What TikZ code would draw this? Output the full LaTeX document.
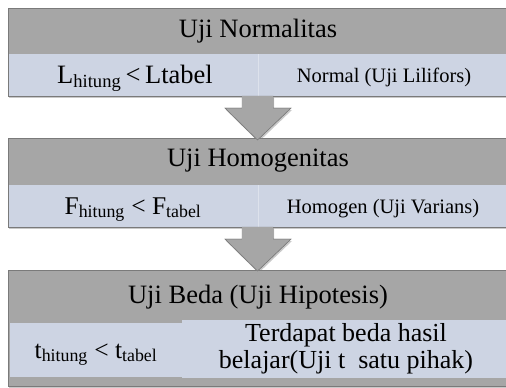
\documentclass[tikz,border=0pt]{standalone}
\usepackage{fontspec}
\setmainfont{Liberation Serif}
\usetikzlibrary{shadows}
\definecolor{hdr}{HTML}{A6A6A6}
\definecolor{rowc}{HTML}{CDD4E3}
\definecolor{edgec}{HTML}{7A7A7A}
\definecolor{divc}{HTML}{DDE2EC}
\tikzset{
  boxshadow/.style={drop shadow={shadow xshift=1pt, shadow yshift=-2pt, opacity=0.35, fill=black!60}},
  hdrbox/.style={draw=edgec, line width=0.6pt, fill=hdr, anchor=north west, inner sep=0pt, text=black},
  rowbox/.style={fill=rowc, anchor=north west, inner sep=0pt, text=black},
  arrowshape/.style={fill=hdr, draw=edgec, line width=0.5pt, boxshadow},
  hdrtext/.style={font=\fontsize{26.5}{30}\selectfont},
  bigtext/.style={font=\fontsize{26.5}{29}\selectfont},
  midtext/.style={font=\fontsize{25.5}{28}\selectfont},
  smalltext/.style={font=\fontsize{20.5}{24}\selectfont},
}
\begin{document}
\begin{tikzpicture}[x=1pt,y=-1pt]
\useasboundingbox (0,0) rectangle (506,388);
\clip (0,0) rectangle (506,388);
\fill[white] (0,0) rectangle (506,388);

% ---- Box 1
\node[hdrbox, boxshadow, minimum width=502pt, minimum height=88pt] (b1) at (8,8) {};
\node[rowbox, minimum width=250pt, minimum height=42pt] (r1a) at (8,54) {};
\node[rowbox, minimum width=252pt, minimum height=42pt] (r1b) at (258,54) {};
\draw[divc, line width=0.6pt] (r1a.north east) -- (r1a.south east);
\draw[edgec, line width=0.6pt] (b1.north west) rectangle (b1.south east);
\node[hdrtext] (t1) at (258,31) {Uji Normalitas};
\node[bigtext, anchor=base] (c1a) at (135,83) {L\textsubscript{hitung}\,<\,Ltabel};
\node[smalltext, anchor=base] (c1b) at (384,82) {Normal (Uji Lilifors)};

% ---- Arrow 1
\path[arrowshape] (242,96) coordinate (a1s) -- (273,96) -- (273,108) -- (291,108)
  -- (257.5,140) coordinate (a1t) -- (225,108) -- (242,108) -- cycle;

% ---- Box 2
\node[hdrbox, boxshadow, minimum width=502pt, minimum height=89pt] (b2) at (8,138) {};
\node[rowbox, minimum width=250pt, minimum height=42pt] (r2a) at (8,185) {};
\node[rowbox, minimum width=252pt, minimum height=42pt] (r2b) at (258,185) {};
\draw[divc, line width=0.6pt] (r2a.north east) -- (r2a.south east);
\draw[edgec, line width=0.6pt] (b2.north west) rectangle (b2.south east);
\node[hdrtext] (t2) at (258,161) {Uji Homogenitas};
\node[midtext, anchor=base] (c2a) at (133,214) {F\textsubscript{hitung} < F\textsubscript{tabel}};
\node[smalltext, anchor=base] (c2b) at (383,213) {Homogen (Uji Varians)};

% arrow 1 head over box 2
\path[fill=hdr, draw=edgec, line width=0.5pt] (225,108) -- (291,108) -- (257.5,140) -- cycle;
\fill[hdr] (242.3,96.3) rectangle (272.7,108.5);

% ---- Arrow 2
\path[arrowshape] (242,227) coordinate (a2s) -- (273,227) -- (273,239) -- (291,239)
  -- (257.5,271) coordinate (a2t) -- (225,239) -- (242,239) -- cycle;

% ---- Box 3
\node[hdrbox, boxshadow, minimum width=502pt, minimum height=116pt] (b3) at (8,270) {};
\node[rowbox, minimum width=172pt, minimum height=54pt] (r3a) at (10,323) {};
\node[rowbox, minimum width=328pt, minimum height=58pt] (r3b) at (182,320) {};
\node[hdrtext] (t3) at (258,297) {Uji Beda (Uji Hipotesis)};
\node[midtext, anchor=base] (c3a) at (96,358) {t\textsubscript{hitung} < t\textsubscript{tabel}};
\node[font=\fontsize{26}{27}\selectfont, align=center, text=black] (c3b) at (346,349)
  {Terdapat beda hasil\\belajar(Uji t\ \ satu pihak)};
% arrow 2 head over box 3
\path[fill=hdr, draw=edgec, line width=0.5pt] (225,239) -- (291,239) -- (257.5,271) -- cycle;
\fill[hdr] (242.3,227.3) rectangle (272.7,239.5);
\end{tikzpicture}
\end{document}
